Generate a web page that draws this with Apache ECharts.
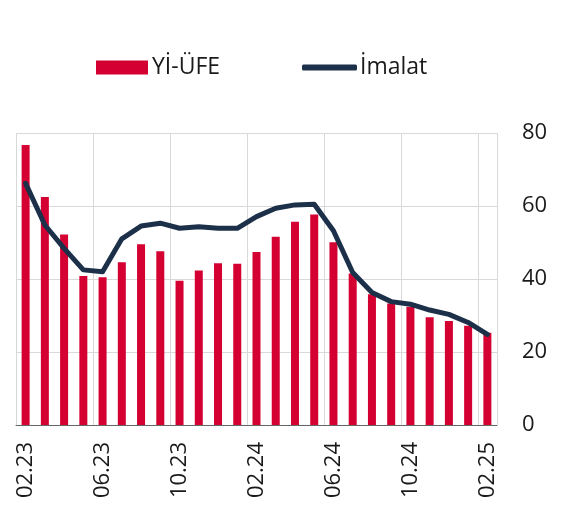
<!DOCTYPE html>
<html>
<head>
    <meta charset="utf-8">
    <script src="https://cdn.jsdelivr.net/npm/echarts@6/dist/echarts.min.js"></script>
    <style>
        html, body { margin: 0; padding: 0; background: #fff; }
        #view { width: 567px; height: 507px; }
    </style>
</head>
<body>
    <div id="view"></div>
    <script>
        // aylar 02.23 - 02.25
        var months = ['02.23', '03.23', '04.23', '05.23', '06.23', '07.23', '08.23', '09.23', '10.23', '11.23', '12.23', '01.24',
            '02.24', '03.24', '04.24', '05.24', '06.24', '07.24', '08.24', '09.24', '10.24', '11.24', '12.24', '01.25', '02.25'];
        var yiufe = [76.7, 62.5, 52.2, 40.8, 40.5, 44.6, 49.5, 47.6, 39.5, 42.3, 44.3, 44.2,
            47.4, 51.6, 55.7, 57.7, 50.1, 41.5, 35.8, 33.3, 32.4, 29.5, 28.5, 27.2, 25.3];
        var imalat = [66.2, 54.8, 48.4, 42.5, 42.0, 51.0, 54.5, 55.3, 53.9, 54.3, 53.9, 53.9,
            57.1, 59.4, 60.3, 60.5, 53.2, 41.8, 36.3, 33.8, 33.1, 31.5, 30.3, 28.1, 24.8];

        var view = echarts.init(document.getElementById('view'));
        var font = '"Open Sans", "Noto Sans", sans-serif';
        var txt = '#1a1a1a';
        var option = {
            animation: false,
            textStyle: { fontFamily: font },
            // iki ayri legend: bar kutusu ve kalin cizgi
            legend: [
                {
                    left: 96,
                    top: 56,
                    padding: 0,
                    itemWidth: 52,
                    itemHeight: 14,
                    textStyle: { fontSize: 23, color: txt, fontFamily: font, padding: [0, 0, 0, -1] },
                    data: [{ name: 'Yİ-ÜFE', icon: 'rect' }]
                },
                {
                    left: 302,
                    top: 56,
                    padding: 0,
                    itemWidth: 55,
                    itemHeight: 6,
                    textStyle: { fontSize: 23, color: txt, fontFamily: font, padding: [0, 0, 0, -2] },
                    data: [{ name: 'İmalat', icon: 'roundRect' }]
                }
            ],
            grid: {
                left: 16,
                right: 70,
                top: 133,
                bottom: 82
            },
            xAxis: {
                type: 'category',
                data: months,
                boundaryGap: true,
                axisLine: { lineStyle: { color: '#666', width: 1 } },
                axisTick: { show: false },
                axisLabel: {
                    interval: 3,
                    rotate: 90,
                    fontSize: 22,
                    color: txt,
                    margin: 17,
                    fontFamily: font
                },
                splitLine: { show: true, interval: 3, lineStyle: { color: '#d9d9d9', width: 1 } }
            },
            yAxis: {
                type: 'value',
                position: 'right',
                min: 0,
                max: 80,
                interval: 20,
                axisLine: { show: false },
                axisTick: { show: false },
                axisLabel: { fontSize: 22, color: txt, margin: 25, fontFamily: font },
                splitLine: { lineStyle: { color: '#d9d9d9', width: 1 } }
            },
            series: [
                {
                    name: 'Yİ-ÜFE',
                    type: 'bar',
                    barWidth: 8,
                    itemStyle: { color: '#d50032' },
                    data: yiufe
                },
                {
                    name: 'İmalat',
                    type: 'line',
                    symbol: 'none',
                    lineStyle: { color: '#1c3149', width: 5, cap: 'round', join: 'round' },
                    itemStyle: { color: '#1c3149' },
                    data: imalat
                }
            ]
        };
        view.setOption(option);
    </script>
</body>
</html>
